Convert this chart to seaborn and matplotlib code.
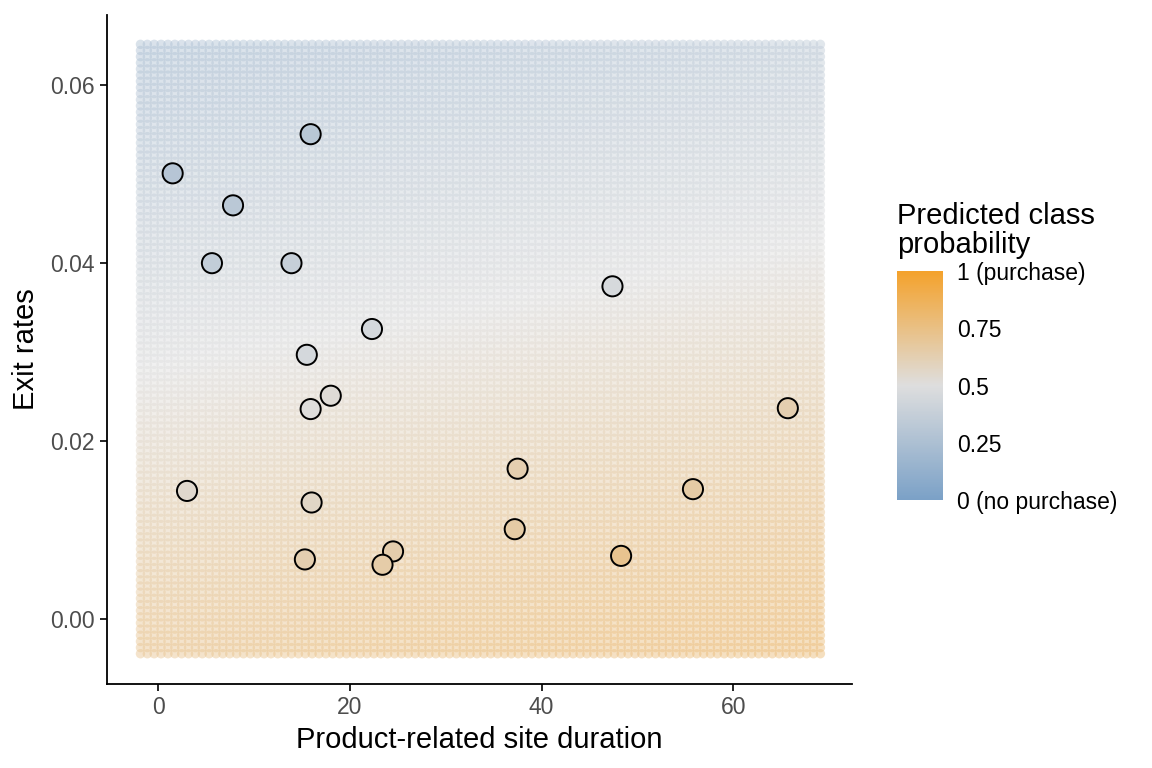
import numpy as np
import pandas as pd
import matplotlib
matplotlib.use("Agg")
import matplotlib.pyplot as plt
import seaborn as sns
from matplotlib.colors import LinearSegmentedColormap, Normalize
from matplotlib.cm import ScalarMappable

duration = [15.9, 1.5, 7.8, 5.6, 13.9, 47.4, 22.3, 15.5, 18.0, 15.9,
            65.7, 37.5, 3.0, 55.8, 16.0, 37.2, 24.5, 15.3, 23.4, 48.3]
exit_rate = [0.0545, 0.0501, 0.0465, 0.0400, 0.0400, 0.0374, 0.0326, 0.0297, 0.0251, 0.0236,
             0.0237, 0.0169, 0.0144, 0.0146, 0.0131, 0.0101, 0.0076, 0.0067, 0.0061, 0.0071]
point_prob = [0.31, 0.30, 0.32, 0.36, 0.38, 0.46, 0.45, 0.45, 0.52, 0.51,
              0.63, 0.63, 0.55, 0.66, 0.57, 0.66, 0.64, 0.63, 0.65, 0.72]

# prediction grid extent and logistic fit (coefficients estimated from the background shading)
grid_x_range = (-1.86, 69.1)
grid_y_range = (-0.0039, 0.0646)
grid_n = 100
intercept, coef_duration, coef_exit = 0.85, 0.006, -30.0

cbar_ticks = [0, 0.25, 0.5, 0.75, 1]
cbar_labels = ["0 (no purchase)", "0.25", "0.5", "0.75", "1 (purchase)"]

gx, gy = np.meshgrid(np.linspace(*grid_x_range, grid_n), np.linspace(*grid_y_range, grid_n))
grid = pd.DataFrame({"x": gx.ravel(), "y": gy.ravel()})
grid["prob"] = 1 / (1 + np.exp(-(intercept + coef_duration * grid["x"] + coef_exit * grid["y"])))

pts = pd.DataFrame({"x": duration, "y": exit_rate, "prob": point_prob})

sns.set_style("ticks")
plt.rcParams["font.family"] = ["Liberation Sans", "DejaVu Sans"]
plt.rcParams["text.color"] = "black"
plt.rcParams["axes.labelcolor"] = "black"

cmap = LinearSegmentedColormap.from_list("purchase", ["#7BA1C7", "#DEDEDE", "#F4A22C"])
norm = Normalize(0, 1)

fig = plt.figure(figsize=(11.52, 7.68), dpi=100)
ax = fig.add_axes([0.0929, 0.1094, 0.6467, 0.8711])

sns.scatterplot(data=grid, x="x", y="y", hue="prob", palette=cmap, hue_norm=norm,
                s=46, alpha=0.45, linewidth=0, legend=False, ax=ax)
sns.scatterplot(data=pts, x="x", y="y", hue="prob", palette=cmap, hue_norm=norm,
                s=210, edgecolor="black", linewidth=1.4, legend=False, ax=ax, zorder=3)

ax.set_xlim(-5.35, 72.4)
ax.set_ylim(-0.0073, 0.0679)
ax.set_xticks([0, 20, 40, 60])
ax.set_yticks([0.00, 0.02, 0.04, 0.06])
ax.set_yticklabels(["0.00", "0.02", "0.04", "0.06"])
ax.tick_params(length=5, width=1.2, color="black", labelsize=16.5, labelcolor="#4D4D4D", pad=4)
ax.set_xlabel("Product-related site duration", fontsize=21, labelpad=5)
ax.set_ylabel("Exit rates", fontsize=21, labelpad=7)
sns.despine(ax=ax)
for side in ["left", "bottom"]:
    ax.spines[side].set_linewidth(1.3)
    ax.spines[side].set_color("black")

cax = fig.add_axes([0.7786, 0.349, 0.0399, 0.298])
cb = fig.colorbar(ScalarMappable(norm=norm, cmap=cmap), cax=cax)
cb.outline.set_visible(False)
cb.set_ticks(cbar_ticks)
cb.set_ticklabels(cbar_labels)
cax.tick_params(axis="y", direction="in", color="white", length=8, width=1,
                left=True, right=True, labelsize=16.5, labelcolor="black", pad=10)
fig.text(0.7786, 0.663, "Predicted class\nprobability", fontsize=21, ha="left", va="bottom",
         linespacing=1.05, color="black")

fig.savefig("out.png", dpi=100)
